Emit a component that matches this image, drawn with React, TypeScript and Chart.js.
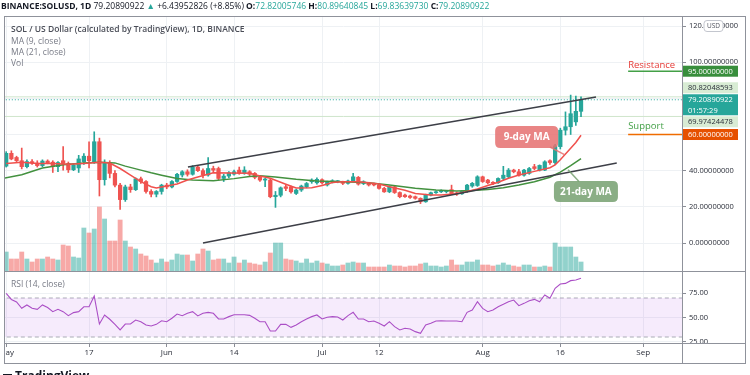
import React, { useEffect, useRef } from 'react';
import { Chart, registerables } from 'chart.js';

Chart.register(...registerables);

const FONT = '"Open Sans", "Noto Sans", sans-serif';
const TEAL = '#26a69a';
const RED = '#ef5350';

// Daily candles, day 0 = 2021-05-01
const startDate = '2021-05-01';
const opens = [42.5,49.6,47.3,45.5,42.2,45.0,44.2,42.8,45.3,44.7, 42.2,45.5,44.0,40.5,41.5,45.0,48.0,45.0,56.0,35.0, 44.0,38.5,32.0,24.0,31.0,29.5,35.5,34.0,28.5,27.0, 28.5,32.0,31.0,34.0,37.6,39.4,38.0,42.0,40.0,37.6, 41.2,41.2,35.7,37.0,38.1,40.3,38.5,39.4,38.5,36.3, 34.8,34.8,25.6,26.4,31.1,31.1,27.4,29.3,31.1,33.9, 33.3,35.0,32.1,33.9,33.9,33.9,33.0,34.3,36.3,32.9, 33.3,32.6,32.1,30.2,28.3,31.1,27.9,26.5,26.0,25.6, 24.7,22.8,26.5,27.8,28.3,28.4,29.5,27.6,27.2,28.5, 31.5,31.8,36.6,34.8,33.3,33.3,35.7,36.6,40.3,39.4, 37.5,38.5,42.2,40.3,40.3,45.5,44.5,53.3,62.4,64.3, 67.0,72.82];
const highs = [50.5,51.0,48.0,52.5,46.0,46.2,45.5,46.0,46.0,45.5, 45.0,53.3,44.8,43.8,48.5,49.5,56.0,61.5,58.0,46.0, 45.5,40.0,33.0,32.0,32.5,36.0,36.5,34.5,29.5,29.0, 32.5,33.0,34.5,38.5,40.0,40.5,42.8,42.5,41.0,47.3, 42.5,42.0,38.0,39.5,40.3,42.0,42.2,40.0,39.0,37.0, 35.8,35.5,28.5,31.0,32.0,31.5,29.8,32.0,33.5,35.5, 36.0,35.5,34.2,35.0,34.6,34.2,34.8,38.5,36.8,34.4, 33.6,33.2,32.6,30.8,31.5,31.6,28.3,27.0,26.5,26.0, 25.0,27.0,28.2,28.8,29.4,29.0,32.0,28.2,29.0,32.5, 33.5,37.2,37.0,35.2,34.0,36.0,42.4,41.2,40.8,40.8, 40.8,41.8,43.5,43.2,45.5,46.0,54.5,63.5,72.5,81.8, 81.2,80.90];
const lows = [42.0,46.0,45.0,41.0,41.5,43.5,42.0,42.2,43.8,39.0, 39.5,40.3,39.0,40.0,39.0,43.5,41.5,44.0,26.0,32.0, 36.0,31.0,18.6,23.0,28.0,29.0,33.0,27.5,25.5,25.5, 27.0,30.0,30.5,33.5,36.5,37.0,37.5,39.5,36.0,37.0, 39.0,35.0,34.0,36.0,37.5,38.0,38.0,37.0,35.5,34.0, 31.1,25.0,19.7,25.5,29.0,27.5,26.8,28.5,30.5,33.0, 32.5,32.5,31.5,33.2,33.3,32.3,32.5,33.9,32.0,32.3, 31.5,31.6,29.8,28.0,27.8,27.4,25.0,25.2,24.6,24.2, 21.8,22.5,26.0,27.4,27.9,27.7,26.8,26.3,26.8,28.0, 30.8,31.3,33.5,32.7,32.2,33.0,35.0,36.0,38.8,37.0, 37.0,38.0,40.5,39.8,40.0,43.5,43.5,52.0,59.7,60.0, 65.0,69.84];
const closes = [49.6,46.5,45.5,42.2,45.0,44.2,42.8,45.3,44.3,42.2, 44.5,44.0,40.5,43.0,46.5,48.0,45.5,56.0,35.0,44.0, 38.5,32.0,24.0,31.0,29.5,35.5,34.0,28.5,27.0,28.5, 32.0,31.0,34.0,38.0,39.4,38.0,42.0,40.0,37.6,41.2, 40.3,35.7,37.0,38.8,39.4,38.5,40.3,38.0,36.3,34.8, 35.2,25.6,26.4,30.5,30.2,28.3,29.3,31.5,32.9,34.8, 35.2,33.3,33.9,34.4,34.1,33.0,34.3,36.6,32.6,33.9, 32.1,32.1,30.2,28.3,31.1,27.9,25.6,25.6,25.2,24.7, 22.8,26.5,27.8,28.3,28.8,28.6,27.3,27.2,28.6,32.0, 33.0,36.6,34.0,33.3,33.0,35.7,37.5,40.3,39.4,37.5, 40.3,41.2,41.2,42.9,44.9,44.5,53.7,62.4,64.3,71.5, 72.82,79.21];
// Volume (millions)
const volumes = [1.9,1.2,1.2,1.9,1.2,0.9,1.2,1.2,1.4,1.2, 1.1,2.6,2.5,1.4,1.3,4.3,3.8,4.2,6.4,5.2, 3.0,3.0,5.1,3.0,2.4,2.2,1.7,1.5,1.1,0.8, 1.2,0.9,1.1,1.7,1.6,1.6,1.0,1.7,2.2,2.0, 1.1,1.2,1.2,0.8,1.4,0.8,1.1,0.8,0.7,0.6, 0.9,1.8,2.8,2.8,1.2,1.1,1.0,0.8,1.2,0.8, 1.0,0.8,0.7,0.5,0.5,0.6,0.8,0.9,0.8,0.8, 0.4,0.4,0.4,0.4,0.6,0.5,0.5,0.4,0.5,0.5, 0.7,0.8,0.5,0.5,0.4,0.5,1.1,0.6,0.6,0.9, 0.9,1.1,0.6,0.6,0.5,0.6,0.8,0.6,0.5,0.4, 0.6,0.6,0.4,0.4,0.5,0.4,2.8,2.4,2.4,2.4, 1.4,0.9];
// Moving averages: [day, value]
const ma9Points = [[0,44.0],[3,44.6],[6,44.0],[9,44.0],[12,43.5],[15,44.0],[18,44.6],[20,44.2],[22,41.2],[24,37.6],[26,33.9],[28,31.1],[29,30.4],[31,31.5],[33,32.6],[35,34.8],[37,36.5],[40,38.8],[43,38.7],[47,38.6],[49,37.0],[51,35.8],[54,32.5],[56,30.4],[59,30.5],[61,31.8],[63,33.4],[65,33.9],[68,33.9],[70,33.3],[72,32.6],[74,31.1],[77,29.2],[79,27.4],[82,26.6],[84,26.6],[87,27.2],[89,28.5],[91,29.9],[93,31.8],[95,33.6],[97,35.8],[99,37.6],[102,39.6],[105,41.6],[106,43.2],[107,46.0],[108,49.2],[109,52.4],[110,55.6],[111,59.6]];
const ma21Points = [[-1,35.5],[3,37.8],[7,41.5],[11,43.3],[15,44.3],[18,44.6],[21,44.3],[23,42.5],[26,40.3],[28,38.8],[30,37.5],[33,35.7],[36,34.8],[40,34.4],[44,35.6],[47,36.8],[49,37.2],[52,36.5],[56,35.2],[60,34.3],[65,33.9],[70,33.3],[74,32.1],[79,30.3],[83,29.3],[87,28.7],[90,29.0],[93,29.6],[96,30.5],[99,32.1],[102,33.9],[105,36.4],[107,39.2],[109,42.8],[111,46.6]];
const rsiValues = [74.8,68.5,66.0,59.5,62.9,59.5,58.4,62.9,60.2,56.0, 58.4,56.0,51.9,55.0,56.0,61.0,61.0,72.0,43.3,52.6, 48.2,43.0,37.2,43.3,43.3,47.4,45.7,42.3,41.3,43.0, 46.7,45.7,49.2,53.6,51.9,54.3,56.0,51.6,54.3,55.3, 54.3,48.5,48.5,50.9,52.9,52.9,52.9,52.2,49.2,45.7, 45.7,36.1,36.1,43.0,43.0,39.9,42.3,45.7,48.5,50.9, 52.6,48.5,50.2,50.9,50.5,47.4,51.9,55.3,48.5,48.5, 45.7,46.4,44.0,41.3,45.7,40.6,37.2,38.9,38.2,35.5, 33.8,42.3,44.0,46.4,46.7,46.4,46.4,46.4,45.7,55.3, 57.7,66.2,59.4,56.0,57.7,61.1,63.5,66.2,67.9,62.1, 64.5,67.2,68.6,66.2,73.1,69.7,79.9,84.4,85.0,87.8, 88.5,90.2];

const xTickDays = [0, 16, 31, 44, 61, 72, 92, 107, 123];
const xTickLabels = ['May', '17', 'Jun', '14', 'Jul', '12', 'Aug', '16', 'Sep'];
const priceTicks = [0, 20, 40, 60, 80, 100, 120];
const priceTicksLabelled = [0, 20, 40, 100, 120];
const rsiTicks = [25, 50, 75];
const upperTrend = [[35.1, 42.0], [113.9, 80.75]];
const lowerTrend = [[38.0, 0.0], [117.9, 44.2]];
const resistance = 95;
const support = 60;
const lastPrice = 79.20890922;
const levelHigh = 80.82048593;
const levelLow = 69.97424478;
const countdown = '01:57:29';

const X_MIN = -0.23, X_MAX = 130.5;
const PRICE_MIN = -15.48, PRICE_MAX = 125.53;
const VOL_MAX = 25.5;
const RSI_MIN = 23.85, RSI_MAX = 97.7;

function rr(ctx: CanvasRenderingContext2D, x: number, y: number, w: number, h: number, r: number) {
  ctx.beginPath();
  ctx.moveTo(x + r, y);
  ctx.lineTo(x + w - r, y);
  ctx.quadraticCurveTo(x + w, y, x + w, y + r);
  ctx.lineTo(x + w, y + h - r);
  ctx.quadraticCurveTo(x + w, y + h, x + w - r, y + h);
  ctx.lineTo(x + r, y + h);
  ctx.quadraticCurveTo(x, y + h, x, y + h - r);
  ctx.lineTo(x, y + r);
  ctx.quadraticCurveTo(x, y, x + r, y);
  ctx.closePath();
}

const overlayPlugin = {
  id: 'overlay',
  afterDraw(chart: any) {
    const { ctx, chartArea } = chart;
    const xs = chart.scales.x, ys = chart.scales.y;
    const X = (v: number) => xs.getPixelForValue(v);
    const Y = (v: number) => ys.getPixelForValue(v);
    ctx.save();
    // MA annotation boxes
    const bubble = (cx: number, cy: number, w: number, h: number, fill: string, text: string, tail: number[][]) => {
      ctx.strokeStyle = fill;
      ctx.lineWidth = 1.5;
      ctx.beginPath();
      ctx.moveTo(X(tail[0][0]), Y(tail[0][1]));
      ctx.lineTo(X(tail[1][0]), Y(tail[1][1]));
      ctx.stroke();
      const px = X(cx), py = Y(cy);
      rr(ctx, px - w / 2, py - h / 2, w, h, 5);
      ctx.fillStyle = fill;
      ctx.fill();
      ctx.fillStyle = '#ffffff';
      ctx.font = `bold 10px ${FONT}`;
      ctx.textAlign = 'center';
      ctx.textBaseline = 'middle';
      ctx.fillText(text, px, py + 0.5);
    };
    bubble(100.5, 58.6, 63, 22, 'rgba(229,112,112,0.85)', '9-day MA', [[105, 53.1], [107.9, 48.7]]);
    bubble(111.95, 28.5, 64, 21, 'rgba(118,160,112,0.85)', '21-day MA', [[108.5, 40.5], [110.6, 34.0]]);

    // Resistance / Support text
    ctx.textAlign = 'left';
    ctx.textBaseline = 'alphabetic';
    ctx.font = `9.5px ${FONT}`;
    ctx.fillStyle = '#e53935';
    ctx.fillText('Resistance', X(120.1), Y(resistance) - 3.5);
    ctx.fillStyle = '#43a047';
    ctx.fillText('Support', X(120.1), Y(support) - 5.5);

    // Price axis tags
    const left = chartArea.right + 1;
    const w = 55;
    const tag = (top: number, h: number, fill: string, texts: string[], color: string) => {
      ctx.fillStyle = fill;
      ctx.fillRect(left, top, w, h);
      ctx.fillStyle = color;
      ctx.font = `7.5px ${FONT}`;
      ctx.textBaseline = 'middle';
      ctx.textAlign = 'left';
      texts.forEach((t, i) => ctx.fillText(t, left + 5, top + (h / (texts.length * 2)) * (2 * i + 1) + 0.5));
    };
    const yc = Y(lastPrice);
    const curTop = yc - 5.5, curH = 21;
    tag(curTop, curH, TEAL, [lastPrice.toFixed(8), countdown], '#ffffff');
    tag(curTop - 12, 11, '#d8ecd4', [levelHigh.toFixed(8)], '#2a2e39');
    tag(curTop + curH + 1, 11, '#d8ecd4', [levelLow.toFixed(8)], '#2a2e39');
    tag(Y(resistance) - 5.5, 11, '#388e3c', [resistance.toFixed(8)], '#ffffff');
    tag(Y(support) - 5.5, 11, '#e65100', [support.toFixed(8)], '#ffffff');

    // USD badge
    const uy = Y(120);
    rr(ctx, 704, uy - 5.5, 19, 11, 3);
    ctx.fillStyle = '#ffffff';
    ctx.fill();
    ctx.strokeStyle = '#c3c6ce';
    ctx.lineWidth = 1;
    ctx.stroke();
    ctx.fillStyle = '#50535e';
    ctx.font = `6.5px ${FONT}`;
    ctx.textAlign = 'center';
    ctx.fillText('USD', 713.5, uy + 0.5);
    ctx.restore();
  },
};

export default function App() {
  const priceRef = useRef<HTMLCanvasElement>(null);
  const rsiRef = useRef<HTMLCanvasElement>(null);

  useEffect(() => {
    const idx = opens.map((_, i) => i);
    const up = (i: number) => closes[i] >= opens[i];
    const gridColor = '#eef1f4';
    const tickColor = '#8a8d96';
    const hline = (y: number, from = X_MIN - 1, to = X_MAX + 1) => [{ x: from, y }, { x: to, y }];
    const pts = (arr: number[][]) => arr.map(([x, y]) => ({ x, y }));

    const priceChart = new Chart(priceRef.current as HTMLCanvasElement, {
      type: 'bar',
      data: {
        datasets: [
          {
            type: 'bar', label: 'Vol', yAxisID: 'yv',
            data: idx.map((i) => ({ x: i, y: volumes[i] })),
            backgroundColor: idx.map((i) => (up(i) ? 'rgba(38,166,154,0.5)' : 'rgba(239,83,80,0.5)')),
            barThickness: 4.2, grouped: false, order: 10, borderWidth: 0,
          } as any,
          {
            type: 'bar', label: 'wick', yAxisID: 'y',
            data: idx.map((i) => ({ x: i, y: [lows[i], highs[i]] })),
            backgroundColor: idx.map((i) => (up(i) ? TEAL : RED)),
            barThickness: 1, grouped: false, order: 6, borderWidth: 0,
          } as any,
          {
            type: 'bar', label: 'SOL / US Dollar', yAxisID: 'y',
            data: idx.map((i) => ({ x: i, y: [opens[i], closes[i]] })),
            backgroundColor: idx.map((i) => (up(i) ? TEAL : RED)),
            barThickness: 3.6, minBarLength: 1, grouped: false, order: 5, borderWidth: 0,
          } as any,
          { type: 'line', label: 'level high', yAxisID: 'y', data: hline(levelHigh), borderColor: '#cfe5cb', borderWidth: 1, pointRadius: 0, order: 8 } as any,
          { type: 'line', label: 'level low', yAxisID: 'y', data: hline(levelLow), borderColor: '#cfe5cb', borderWidth: 1, pointRadius: 0, order: 8 } as any,
          { type: 'line', label: 'last', yAxisID: 'y', data: hline(lastPrice), borderColor: TEAL, borderWidth: 1, borderDash: [1, 2], pointRadius: 0, order: 7 } as any,
          { type: 'line', label: 'MA (9, close)', yAxisID: 'y', data: pts(ma9Points), borderColor: '#f0504c', borderWidth: 1.5, pointRadius: 0, order: 3 } as any,
          { type: 'line', label: 'MA (21, close)', yAxisID: 'y', data: pts(ma21Points), borderColor: '#43913f', borderWidth: 1.5, pointRadius: 0, order: 3 } as any,
          { type: 'line', label: 'upper', yAxisID: 'y', data: pts(upperTrend), borderColor: '#3d3f47', borderWidth: 1.6, pointRadius: 0, order: 1 } as any,
          { type: 'line', label: 'lower', yAxisID: 'y', data: pts(lowerTrend), borderColor: '#3d3f47', borderWidth: 1.6, pointRadius: 0, order: 1 } as any,
          { type: 'line', label: 'Resistance', yAxisID: 'y', data: hline(resistance, 120.1), borderColor: '#43a047', borderWidth: 1.6, pointRadius: 0, order: 1 } as any,
          { type: 'line', label: 'Support', yAxisID: 'y', data: hline(support, 120.1), borderColor: '#ef6c00', borderWidth: 1.6, pointRadius: 0, order: 1 } as any,
        ],
      },
      options: {
        animation: false,
        responsive: false,
        maintainAspectRatio: false,
        devicePixelRatio: 1,
        layout: { padding: { left: 5, right: 5, top: 16, bottom: 1 } },
        plugins: { legend: { display: false }, tooltip: { enabled: false } },
        scales: {
          x: {
            type: 'linear', min: X_MIN, max: X_MAX, offset: false,
            afterBuildTicks: (s: any) => { s.ticks = xTickDays.map((v) => ({ value: v })); },
            afterFit: (s: any) => { s.height = 0; s.paddingLeft = 0; s.paddingRight = 0; },
            grid: { color: gridColor, drawTicks: false, offset: false },
            border: { display: false },
            ticks: { display: false },
          },
          y: {
            type: 'linear', position: 'right', min: PRICE_MIN, max: PRICE_MAX,
            afterBuildTicks: (s: any) => { s.ticks = priceTicks.map((v) => ({ value: v })); },
            afterFit: (s: any) => { s.width = 63; s.paddingTop = 0; s.paddingBottom = 0; },
            grid: { color: gridColor, tickLength: 4, tickColor },
            border: { display: false },
            ticks: {
              padding: 3, color: '#2a2e39', font: { family: FONT, size: 7.5 },
              callback: (v: any) => (priceTicksLabelled.includes(Number(v)) ? Number(v).toFixed(8) : ''),
            },
          },
          yv: { type: 'linear', display: false, min: 0, max: VOL_MAX },
        },
      } as any,
      plugins: [overlayPlugin],
    });

    const rsiChart = new Chart(rsiRef.current as HTMLCanvasElement, {
      type: 'line',
      data: {
        datasets: [
          { label: 'band70', data: hline(70), borderColor: '#a9acb5', borderWidth: 1, borderDash: [4, 3], pointRadius: 0, fill: false, order: 5 } as any,
          { label: 'band30', data: hline(30), borderColor: '#a9acb5', borderWidth: 1, borderDash: [4, 3], pointRadius: 0, fill: '-1', backgroundColor: 'rgba(186,104,230,0.13)', order: 4 } as any,
          { label: 'RSI (14, close)', data: idx.map((i) => ({ x: i, y: rsiValues[i] })), borderColor: '#ab4fc6', borderWidth: 1.1, pointRadius: 0, fill: false, order: 1 } as any,
        ],
      },
      options: {
        animation: false,
        responsive: false,
        maintainAspectRatio: false,
        devicePixelRatio: 1,
        layout: { padding: { left: 5, right: 5, top: 0, bottom: 12 } },
        plugins: { legend: { display: false }, tooltip: { enabled: false } },
        scales: {
          x: {
            type: 'linear', min: X_MIN, max: X_MAX, offset: false,
            afterBuildTicks: (s: any) => { s.ticks = xTickDays.map((v) => ({ value: v })); },
            afterFit: (s: any) => { s.height = 20; s.paddingLeft = 0; s.paddingRight = 0; },
            grid: { color: gridColor, tickLength: 4, tickColor, offset: false },
            border: { display: false },
            ticks: {
              autoSkip: false, maxRotation: 0, padding: 1, color: '#2a2e39',
              font: { family: FONT, size: 8 },
              callback: (v: any) => xTickLabels[xTickDays.indexOf(Number(v))] ?? '',
            },
          },
          y: {
            type: 'linear', position: 'right', min: RSI_MIN, max: RSI_MAX,
            afterBuildTicks: (s: any) => { s.ticks = rsiTicks.map((v) => ({ value: v })); },
            afterFit: (s: any) => { s.width = 63; s.paddingTop = 0; s.paddingBottom = 0; },
            grid: { color: gridColor, tickLength: 4, tickColor },
            border: { display: false },
            ticks: {
              padding: 3, color: '#2a2e39', font: { family: FONT, size: 7.5 },
              callback: (v: any) => Number(v).toFixed(2),
            },
          },
        },
      } as any,
    });

    return () => {
      priceChart.destroy();
      rsiChart.destroy();
    };
  }, []);

  const LINE = '#8f929b';
  const ln = (left: number, top: number, width: number, height: number) => (
    <div style={{ position: 'absolute', left, top, width, height, background: LINE }} />
  );
  const teal = { color: TEAL };

  return (
    <div style={{ position: 'absolute', left: 0, top: 0, width: 750, height: 375, overflow: 'hidden', background: '#ffffff', fontFamily: FONT }}>
      <canvas ref={priceRef} width={750} height={272} style={{ position: 'absolute', left: 0, top: 0, width: 750, height: 272 }} />
      <div style={{ position: 'absolute', left: 5, top: 271, width: 745, height: 104, overflow: 'hidden' }}>
        <canvas ref={rsiRef} width={750} height={104} style={{ position: 'absolute', left: -5, top: 0, width: 750, height: 104 }} />
      </div>
      {ln(4, 16, 742, 1)}
      {ln(4, 16, 1, 348)}
      {ln(745, 16, 1, 348)}
      {ln(4, 363, 742, 1)}
      {ln(682, 16, 1, 348)}
      {ln(4, 271, 742, 1)}
      {ln(4, 343, 742, 1)}
      <div style={{ position: 'absolute', left: 1, top: 0, fontSize: 8.5, lineHeight: '12px', whiteSpace: 'nowrap', color: '#131722' }}>
        <b>BINANCE:SOLUSD, 1D</b> 79.20890922 <span style={teal}>▲</span> +6.43952826 (+8.85%) <b>O:</b><span style={teal}>72.82005746</span> <b>H:</b><span style={teal}>80.89640845</span> <b>L:</b><span style={teal}>69.83639730</span> <b>C:</b><span style={teal}>79.20890922</span>
      </div>
      <div style={{ position: 'absolute', left: 11, top: 23.4, fontSize: 8.5, lineHeight: '11.3px', whiteSpace: 'nowrap', color: '#787b86' }}>
        <div style={{ color: '#4a4d57', fontWeight: 600 }}>SOL / US Dollar (calculated by TradingView), 1D, BINANCE</div>
        <div>MA (9, close)</div>
        <div>MA (21, close)</div>
        <div>Vol</div>
      </div>
      <div style={{ position: 'absolute', left: 11, top: 277.5, fontSize: 8.5, lineHeight: '11px', whiteSpace: 'nowrap', color: '#787b86' }}>
        RSI (14, close)
      </div>
      <div style={{ position: 'absolute', left: 3, top: 369, fontSize: 12, lineHeight: '14px', fontWeight: 700, whiteSpace: 'nowrap', color: '#131722' }}>
        <span style={{ display: 'inline-block', width: 9, height: 6, background: '#131722', marginRight: 3 }} />TradingView
      </div>
    </div>
  );
}
